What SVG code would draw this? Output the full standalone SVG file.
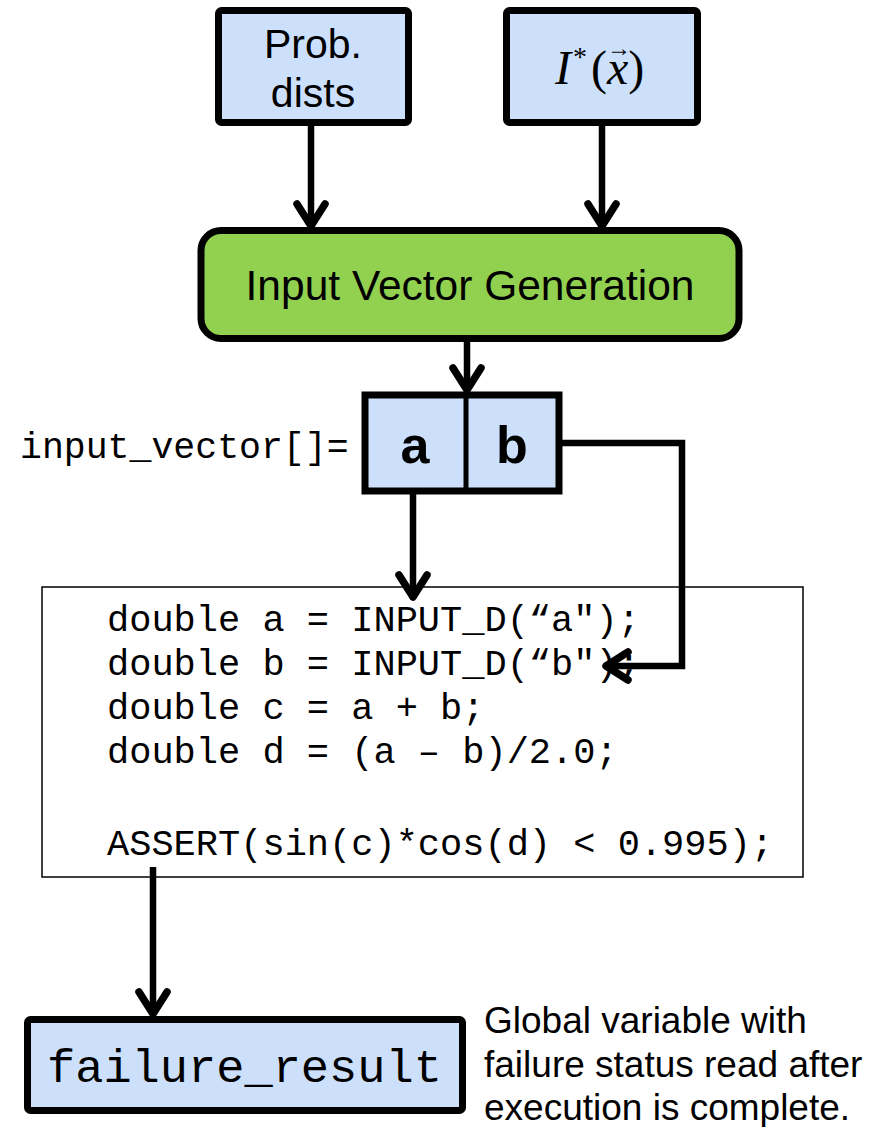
<svg xmlns="http://www.w3.org/2000/svg" width="879" height="1127" viewBox="0 0 879 1127">
  <style>
    .box { fill: #cce0fc; stroke: #000; stroke-width: 7; }
    .sans { font-family: "Liberation Sans", Arial, sans-serif; fill: #000; }
    .mono { font-family: "Liberation Mono", "Courier New", monospace; fill: #000; }
    .serif { font-family: "Liberation Serif", "Times New Roman", serif; fill: #000; }
    .wire { fill: none; stroke: #000; stroke-width: 6.5; marker-end: url(#chev); }
  </style>
  <defs>
    <marker id="chev" viewBox="-30 -20 40 40" markerWidth="40" markerHeight="40" refX="-3" refY="0" orient="auto" markerUnits="userSpaceOnUse">
      <path d="M-25,-14 L-3,0 L-25,14" fill="none" stroke="#000" stroke-width="7.5" stroke-linecap="round" stroke-linejoin="round"/>
    </marker>
  </defs>

  <rect width="879" height="1127" fill="#fff"/>

  <!-- connectors -->
  <g id="connectors">
    <line class="wire" x1="311" y1="125" x2="311" y2="226"/>
    <line class="wire" x1="602" y1="125" x2="602" y2="226"/>
    <line class="wire" x1="467" y1="340" x2="467" y2="390"/>
    <line class="wire" x1="413" y1="493" x2="413" y2="597"/>
    <polyline class="wire" points="562,443 682,443 682,666 606,666"/>
    <line class="wire" x1="153" y1="867" x2="153" y2="1014"/>
  </g>

  <g id="prob-dists">
    <rect class="box" x="218.5" y="10.5" width="190" height="112" rx="3"/>
    <text class="sans" font-size="41" text-anchor="middle" x="313" y="58">Prob.</text>
    <text class="sans" font-size="41" text-anchor="middle" x="313" y="107">dists</text>
  </g>

  <g id="i-star">
    <rect class="box" x="506.5" y="10.5" width="191" height="112" rx="3"/>
    <text class="serif" font-size="48" x="555" y="84"><tspan font-style="italic">I</tspan><tspan font-size="28" dx="2" dy="-18">*</tspan><tspan dx="4" dy="18">(</tspan><tspan font-style="italic">x</tspan><tspan>)</tspan></text>
    <text class="serif" font-size="24" x="619" y="56" text-anchor="middle">→</text>
  </g>

  <g id="input-vector-generation">
    <rect x="201" y="230.5" width="538" height="108" rx="20" fill="#92d050" stroke="#000" stroke-width="7"/>
    <text class="sans" font-size="42.5" text-anchor="middle" x="470" y="300">Input Vector Generation</text>
  </g>

  <g id="input-vector">
    <text class="mono" font-size="36.5" x="20" y="458">input_vector[]=</text>
    <rect class="box" x="365" y="395" width="194" height="96" stroke-width="6"/>
    <line x1="466" y1="395" x2="466" y2="491" stroke="#000" stroke-width="5"/>
    <text class="sans" font-size="52" font-weight="bold" text-anchor="middle" x="415" y="463">a</text>
    <text class="sans" font-size="52" font-weight="bold" text-anchor="middle" x="512" y="463">b</text>
  </g>

  <g id="code">
    <rect x="42" y="587" width="761" height="290" fill="none" stroke="#000" stroke-width="1.5"/>
    <g class="mono" font-size="37">
      <text x="107" y="631">double a = INPUT_D(“a");</text>
      <text x="107" y="675">double b = INPUT_D(“b");</text>
      <text x="107" y="719">double c = a + b;</text>
      <text x="107" y="763">double d = (a – b)/2.0;</text>
      <text x="107" y="855">ASSERT(sin(c)*cos(d) &lt; 0.995);</text>
    </g>
  </g>

  <g id="failure-result">
    <rect class="box" x="27.5" y="1019.5" width="435" height="91" rx="3"/>
    <text class="mono" font-size="47" x="47" y="1082">failure_result</text>
  </g>

  <g id="note">
    <text class="sans" font-size="37" x="484" y="1033">Global variable with</text>
    <text class="sans" font-size="37" x="484" y="1077">failure status read after</text>
    <text class="sans" font-size="37" x="484" y="1120">execution is complete.</text>
  </g>
</svg>
